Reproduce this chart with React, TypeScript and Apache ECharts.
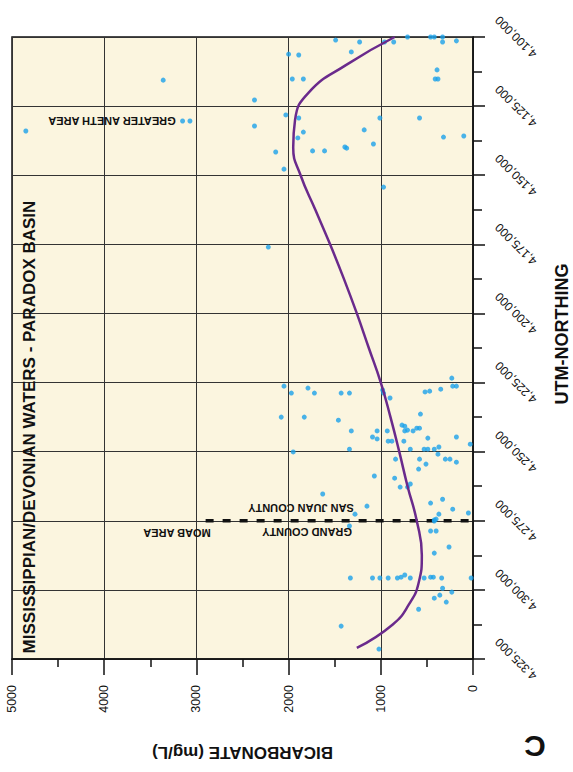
import React, { useEffect, useRef } from "react";
import * as echarts from "echarts";

// Bicarbonate axis (mg/L) and UTM-northing axis ranges
const bicarbMin = 0;
const bicarbMax = 5000;
const bicarbInterval = 1000;
const northingMin = 4100000;
const northingMax = 4325000;
const northingInterval = 25000;

// Sample points: bicarbonate (mg/L)
const sampleBicarbonate = [
  3360, 3150, 3070, 4850, 1490, 1230, 960, 860, 710, 460, 420, 330, 330, 180,
  2000, 1890, 1320, 390, 410, 380, 1960, 1840, 2370, 2030, 1890, 2370, 1010, 580,
  1840, 1900, 1180, 1080, 320, 100, 2140, 1740, 1610, 1390, 1370, 2050, 970, 2220,
  2050, 1970, 1790, 1720, 1430, 1340, 980, 970, 900, 2080, 1830, 1460, 1320, 1040,
  930, 1090, 1040, 920, 880, 770, 740, 740, 710, 650, 610, 580, 570, 520, 470, 350,
  230, 220, 180, 750, 490, 180, 30, 1950, 1340, 680, 530, 490, 420, 370, 380, 300,
  250, 180, 840, 580, 510, 590, 1070, 850, 790, 710, 680, 1630, 1150, 1280, 460, 330,
  370, 220, 50, 420, 400, 420, 1340, 460, 400, 420, 260, 1330, 1090, 1010, 920, 820,
  780, 740, 680, 530, 460, 430, 340, 20, 330, 230, 360, 420, 290, 590, 1430, 1020,
];
// Sample points: UTM northing
const sampleNorthing = [
  4115600, 4130400, 4130400, 4134000, 4101100, 4101800, 4101800, 4101800, 4100000, 4100000, 4100000, 4100000, 4101800, 4101400,
  4106200, 4106500, 4105400, 4111900, 4115200, 4115200, 4115200, 4115200, 4122800, 4128200, 4129300, 4132200, 4129300, 4129300,
  4134400, 4136500, 4133600, 4138700, 4136200, 4135800, 4141600, 4141200, 4141200, 4139800, 4140200, 4147800, 4154300, 4176000,
  4226300, 4228800, 4227000, 4228800, 4228800, 4228800, 4227700, 4228800, 4230600, 4237500, 4237500, 4238600, 4242500, 4242500,
  4242500, 4244700, 4245400, 4246200, 4246200, 4240400, 4240800, 4242500, 4242200, 4242500, 4241500, 4241500, 4236400, 4228400, 4228100, 4227400,
  4223400, 4226300, 4226300, 4246200, 4245100, 4244700, 4247300, 4250100, 4249100, 4249100, 4249100, 4249100, 4249100, 4248300, 4250900, 4252700,
  4252700, 4253800, 4252700, 4252700, 4254500, 4256300, 4258800, 4259600, 4262800, 4262800, 4261700, 4265300, 4269700, 4272600, 4268600, 4267200,
  4272600, 4270800, 4272200, 4274700, 4274400, 4275100, 4276900, 4278700, 4278700, 4286700, 4284500, 4295700, 4295700, 4295700, 4295700, 4295700,
  4295400, 4294600, 4295700, 4295700, 4295400, 4295400, 4295700, 4295700, 4299400, 4300800, 4301900, 4303000, 4304400, 4307000, 4313100, 4321400,
];

// Trend curve
const trendNorthing = [
  4100000, 4110000, 4120000, 4130000, 4140000, 4150000, 4162500, 4175000, 4187500,
  4200000, 4212500, 4225000, 4237500, 4250000, 4262500, 4275000, 4287500, 4297500,
  4305000, 4312500, 4321000,
];
const trendBicarbonate = [
  850, 1370, 1780, 1930, 1950, 1870, 1710, 1550, 1400,
  1260, 1130, 1000, 895, 800, 710, 610, 555, 590,
  690, 870, 1260,
];

// County boundary (San Juan / Grand)
const countyBicarbonate = [2900, 0];
const countyNorthing = [4275000, 4275000];

const FONT = "'Liberation Sans', Arial, Helvetica, sans-serif";

export default function App() {
  const ref = useRef<HTMLDivElement>(null);
  useEffect(() => {
    if (!ref.current) return;
    const chart = echarts.init(ref.current, null, { renderer: "svg" });
    const points = sampleBicarbonate.map((b, i) => [b, sampleNorthing[i]]);
    const trend = trendBicarbonate.map((b, i) => [b, trendNorthing[i]]);
    const county = countyBicarbonate.map((b, i) => [b, countyNorthing[i]]);
    const annot = (text: string, x: number, y: number, size: number, rot: number) => ({
      type: "text",
      x,
      y,
      rotation: rot,
      z: 100,
      style: {
        text,
        fill: "#111",
        font: `bold ${size}px ${FONT}`,
        align: "center",
        verticalAlign: "middle",
      },
    });
    chart.setOption({
      animation: false,
      backgroundColor: "#ffffff",
      grid: {
        left: 12,
        right: 100,
        top: 37,
        bottom: 113,
        show: true,
        backgroundColor: "#FBF5DF",
        borderColor: "#111",
        borderWidth: 1.5,
      },
      xAxis: {
        type: "value",
        min: bicarbMin,
        max: bicarbMax,
        interval: bicarbInterval,
        inverse: true,
        position: "bottom",
        axisLine: { show: true, onZero: false, lineStyle: { color: "#111", width: 1.5 } },
        axisTick: { show: true, length: 16, lineStyle: { color: "#111", width: 1.5 } },
        minorTick: { show: true, splitNumber: 2, length: 8, lineStyle: { color: "#111", width: 1.5 } },
        axisLabel: {
          rotate: 90,
          margin: 26,
          fontSize: 12.5,
          color: "#111",
          fontFamily: FONT,
          showMinLabel: true,
          showMaxLabel: true,
          formatter: (v: number) => String(v),
        },
        splitLine: { show: true, lineStyle: { color: "#333", width: 1 } },
        name: "BICARBONATE (mg/L)",
        nameLocation: "middle",
        nameGap: 85,
        nameRotate: 180,
        nameTextStyle: { fontSize: 17, fontWeight: "bold", color: "#111", fontFamily: FONT },
      },
      yAxis: {
        type: "value",
        min: northingMin,
        max: northingMax,
        interval: northingInterval,
        inverse: true,
        position: "right",
        axisLine: { show: true, onZero: false, lineStyle: { color: "#111", width: 1.5 } },
        axisTick: { show: true, length: 12, lineStyle: { color: "#111", width: 1.5 } },
        minorTick: { show: true, splitNumber: 2, length: 9, lineStyle: { color: "#111", width: 1.5 } },
        axisLabel: {
          rotate: 135,
          align: "center",
          verticalAlign: "middle",
          margin: 43,
          fontSize: 12,
          color: "#111",
          fontFamily: FONT,
          showMinLabel: true,
          showMaxLabel: true,
          formatter: (v: number) => v.toLocaleString("en-US"),
        },
        splitLine: { show: true, lineStyle: { color: "#333", width: 1 } },
      },
      series: [
        {
          type: "line",
          data: county,
          symbol: "none",
          lineStyle: { color: "#111", width: 3.5, type: [8, 9] },
          z: 3,
        },
        {
          type: "scatter",
          data: points,
          symbol: "circle",
          symbolSize: 5,
          itemStyle: { color: "#1BA1EA" },
          z: 4,
        },
        {
          type: "line",
          data: trend,
          symbol: "none",
          smooth: 0.5,
          lineStyle: { color: "#6A2A8C", width: 2.5 },
          z: 5,
        },
      ],
      graphic: [
        annot("MISSISSIPPIAN/DEVONIAN WATERS - PARADOX BASIN", 29, 427, 17, Math.PI / 2),
        annot("UTM-NORTHING", 562, 334, 18, Math.PI / 2),
        annot("GREATER ANETH AREA", 112, 121, 11, Math.PI),
        annot("MOAB AREA", 177, 533, 11, Math.PI),
        annot("SAN JUAN COUNTY", 301, 508, 11, Math.PI),
        annot("GRAND COUNTY", 307, 532, 11, Math.PI),
        annot("C", 535, 746, 30, Math.PI),
      ],
    });
    return () => chart.dispose();
  }, []);
  return (
    <div
      ref={ref}
      style={{ position: "absolute", left: 0, top: 0, width: 573, height: 772 }}
    />
  );
}
